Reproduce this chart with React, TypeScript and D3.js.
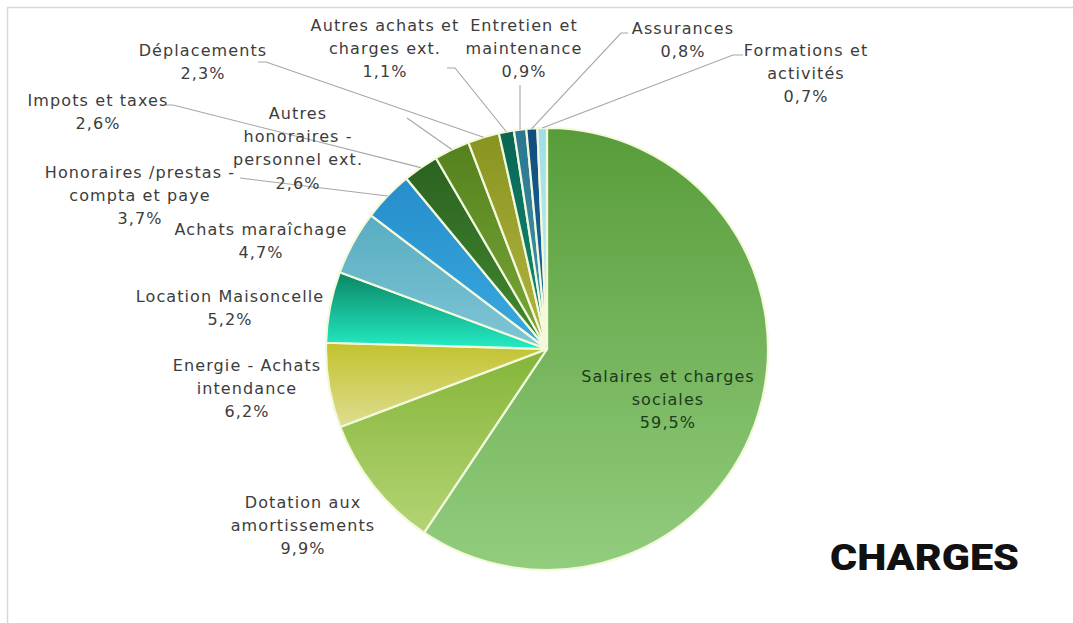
import React from "react";
import * as d3 from "d3";

const categories = [
  "Salaires et charges sociales",
  "Dotation aux amortissements",
  "Energie - Achats intendance",
  "Location Maisoncelle",
  "Achats maraîchage",
  "Honoraires /prestas - compta et paye",
  "Impots et taxes",
  "Autres honoraires - personnel ext.",
  "Déplacements",
  "Autres achats et charges ext.",
  "Entretien et maintenance",
  "Assurances",
  "Formations et activités",
];
const values = [59.5, 9.9, 6.2, 5.2, 4.7, 3.7, 2.6, 2.6, 2.3, 1.1, 0.9, 0.8, 0.7];
const labelLines = [
  ["Salaires et charges", "sociales"],
  ["Dotation aux", "amortissements"],
  ["Energie - Achats", "intendance"],
  ["Location Maisoncelle"],
  ["Achats maraîchage"],
  ["Honoraires /prestas -", "compta et paye"],
  ["Impots et taxes"],
  ["Autres", "honoraires -", "personnel ext."],
  ["Déplacements"],
  ["Autres achats et", "charges ext."],
  ["Entretien et", "maintenance"],
  ["Assurances"],
  ["Formations et", "activités"],
];
const title = "CHARGES";

// styling / layout (not data)
const sliceColors: [string, string][] = [
  ["#589c3a", "#92cd7e"],
  ["#84b538", "#b4d474"],
  ["#c2c22e", "#dedd92"],
  ["#0a8664", "#24ecc4"],
  ["#58acc2", "#80c6d6"],
  ["#268ecb", "#3aa9e0"],
  ["#2b6221", "#438a30"],
  ["#55811e", "#7ba838"],
  ["#889420", "#b4b640"],
  ["#0a6554", "#0f8f78"],
  ["#2b768e", "#3d9ab0"],
  ["#124b7e", "#1e70a8"],
  ["#a0dce8", "#c4f2f6"],
];
const labelPos: [number, number][] = [
  [668, 376],
  [303, 502],
  [247, 365],
  [230, 296],
  [261, 229],
  [140, 172],
  [98, 100],
  [298, 113],
  [203, 50],
  [385, 25],
  [524, 25],
  [683, 28],
  [806, 50],
];
const leaderStarts: ([number, number][] | null)[] = [
  null, null, null, null, null,
  [[240, 178]],
  [[166, 105], [173, 105]],
  [[407, 118]],
  [[258, 62], [266, 62]],
  [[447, 68], [455, 68]],
  [[520, 85]],
  [[628, 33], [621, 33]],
  [[743, 55], [733, 55]],
];

const W = 1073, H = 623;
const cx = 547, cy = 349, R = 221;
const lineH = 23.3;

export default function App() {
  const pie = d3.pie<number>().sort(null).value((d) => d)(values);
  const arc = d3.arc<d3.PieArcDatum<number>>().innerRadius(0).outerRadius(R);
  const fmt = (v: number) => v.toFixed(1).replace(".", ",") + "%";
  const line = d3.line();

  return (
    <svg
      width={W}
      height={H}
      style={{ position: "absolute", left: 0, top: 0, background: "#fff" }}
    >
      <defs>
        {sliceColors.map((c, i) => (
          <linearGradient key={i} id={`g${i}`} x1="0" y1="0" x2="0" y2="1">
            <stop offset="0" stopColor={c[0]} />
            <stop offset="1" stopColor={c[1]} />
          </linearGradient>
        ))}
      </defs>
      <rect x={7.5} y={7.5} width={W + 10} height={H + 10} fill="none" stroke="#d8d8d8" strokeWidth={1.5} />
      <g transform={`translate(${cx},${cy})`}>
        {pie.map((p, i) => (
          <path key={i} d={arc(p) || ""} fill={`url(#g${i})`} stroke="#f3f9dc" strokeWidth={2.2} strokeLinejoin="round" />
        ))}
      </g>
      {pie.map((p, i) => {
        const s = leaderStarts[i];
        if (!s) return null;
        const a = (p.startAngle + p.endAngle) / 2;
        const end: [number, number] = [cx + R * Math.sin(a), cy - R * Math.cos(a)];
        return (
          <path key={"l" + i} d={line([...s, end]) || ""} fill="none" stroke="#a6a6a6" strokeWidth={1.1} />
        );
      })}
      {pie.map((p, i) => {
        const [x, y] = labelPos[i];
        const lines = [...labelLines[i], fmt(values[i])];
        return (
          <text
            key={"t" + i}
            x={x}
            y={y}
            textAnchor="middle"
            fontFamily="'DejaVu Sans', sans-serif"
            fontSize={16}
            letterSpacing={1.1}
            fill={i === 0 ? "#1c3a1c" : "#3c3c3c"}
          >
            {lines.map((t, j) => (
              <tspan key={j} x={x} y={y + j * lineH} dy="0.36em">
                {t}
              </tspan>
            ))}
          </text>
        );
      })}
      <text
        x={830}
        y={570}
        fontFamily="Roboto, Lato, sans-serif"
        fontWeight={900}
        fontSize={37}
        textLength={189}
        lengthAdjust="spacingAndGlyphs"
        fill="#111"
      >
        {title}
      </text>
    </svg>
  );
}
